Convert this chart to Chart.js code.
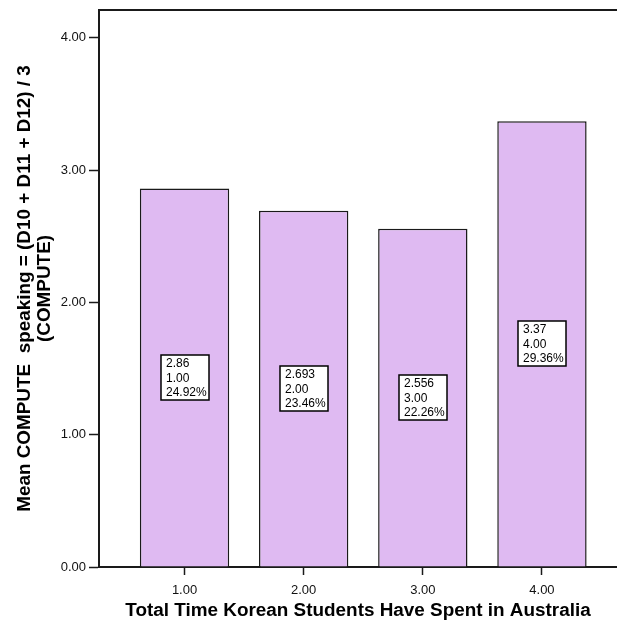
<!DOCTYPE html>
<html>
<head>
<meta charset="utf-8">
<script src="https://cdn.jsdelivr.net/npm/chart.js@4"></script>
<style>
    html, body { margin: 0; padding: 0; background: #fff; }
    #wrap { width: 617px; height: 621px; }
</style>
</head>
<body>
<div id="wrap"><canvas id="chart" width="617" height="621"></canvas></div>
<script>
const categories = [1, 2, 3, 4];
const categoryLabels = ['1.00', '2.00', '3.00', '4.00'];
const meanValues = [2.86, 2.693, 2.556, 3.37];
const meanLabels = ['2.86', '2.693', '2.556', '3.37'];
const percentLabels = ['24.92%', '23.46%', '22.26%', '29.36%'];
const yTicks = [0, 1, 2, 3, 4];
const xTicks = [1, 2, 3, 4];

const FONT = '"Liberation Sans", Arial, sans-serif';
const LINE = '#1a1a1a';

// white boxes with mean / category / percent, centred halfway up each bar
const barLabelBoxes = {
    id: 'barLabelBoxes',
    afterDatasetsDraw(chart) {
        const ctx = chart.ctx;
        const meta = chart.getDatasetMeta(0);
        const lineH = 14.3;
        ctx.save();
        ctx.font = '12px ' + FONT;
        ctx.textAlign = 'left';
        ctx.textBaseline = 'middle';
        meta.data.forEach((bar, i) => {
            const lines = [meanLabels[i], categoryLabels[i], percentLabels[i]];
            const w = 48;
            const h = 45;
            const cy = (bar.y + bar.base) / 2;
            const left = Math.round(bar.x - w / 2);
            const top = Math.round(cy - h / 2);
            ctx.fillStyle = '#fff';
            ctx.fillRect(left, top, w, h);
            ctx.strokeStyle = '#000';
            ctx.lineWidth = 1.5;
            ctx.strokeRect(left, top, w, h);
            ctx.fillStyle = '#000';
            lines.forEach((t, j) => {
                ctx.fillText(t, left + 5, top + 9 + j * lineH);
            });
        });
        ctx.restore();
    }
};

const ctx = document.getElementById('chart').getContext('2d');

new Chart(ctx, {
    type: 'bar',
    data: {
        datasets: [{
            data: categories.map((c, i) => ({ x: c, y: meanValues[i] })),
            backgroundColor: '#dfbaf2',
            borderColor: LINE,
            borderWidth: 1.5,
            barPercentage: 0.75,
            categoryPercentage: 1
        }]
    },
    options: {
        responsive: false,
        animation: false,
        devicePixelRatio: 1,
        layout: { padding: 0 },
        plugins: {
            legend: { display: false },
            tooltip: { enabled: false }
        },
        scales: {
            x: {
                type: 'linear',
                position: 'bottom',
                min: 0.282,
                max: 4.63,
                offset: false,
                afterBuildTicks: scale => { scale.ticks = xTicks.map(v => ({ value: v })); },
                afterFit: scale => { scale.height = 54; scale.paddingLeft = 0; scale.paddingRight = 0; },
                grid: { offset: false, drawOnChartArea: false, tickLength: 8, tickWidth: 1.5, tickColor: LINE },
                border: { display: true, width: 2, color: LINE },
                ticks: {
                    padding: 8,
                    color: '#111',
                    font: { family: FONT, size: 13 },
                    callback: v => v.toFixed(2)
                },
                title: {
                    display: true,
                    text: 'Total Time Korean Students Have Spent in Australia',
                    color: '#000',
                    font: { family: FONT, size: 18.9, weight: 'bold', lineHeight: 1.05 },
                    padding: { top: 0, bottom: 0 }
                }
            },
            xTop: {
                type: 'linear',
                position: 'top',
                afterFit: scale => { scale.height = 10; scale.paddingLeft = 0; scale.paddingRight = 0; },
                grid: { drawOnChartArea: false, drawTicks: false },
                border: { display: true, width: 2, color: LINE },
                ticks: { display: false }
            },
            y: {
                type: 'linear',
                position: 'left',
                min: 0,
                max: 4.21,
                afterBuildTicks: scale => { scale.ticks = yTicks.map(v => ({ value: v })); },
                afterFit: scale => { scale.width = 99; scale.paddingTop = 0; scale.paddingBottom = 0; },
                grid: { drawOnChartArea: false, tickLength: 10, tickWidth: 1.5, tickColor: LINE },
                border: { display: true, width: 2, color: LINE },
                ticks: {
                    padding: 3,
                    color: '#111',
                    font: { family: FONT, size: 13 },
                    callback: v => v.toFixed(2)
                },
                title: {
                    display: true,
                    text: ['Mean COMPUTE  speaking = (D10 + D11 + D12) / 3', '(COMPUTE)'],
                    color: '#000',
                    font: { family: FONT, size: 18.9, weight: 'bold', lineHeight: 1.05 },
                    padding: { top: 15, bottom: 0 }
                }
            }
        }
    },
    plugins: [barLabelBoxes]
});
</script>
</body>
</html>
